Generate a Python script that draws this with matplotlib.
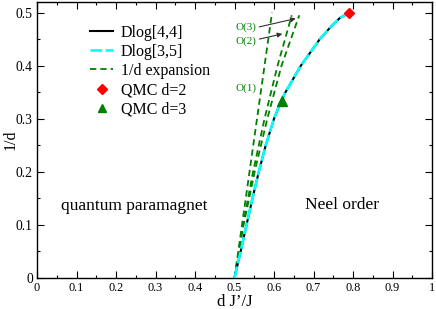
import matplotlib
matplotlib.use("Agg")
import matplotlib.pyplot as plt
from matplotlib.ticker import MultipleLocator, FixedLocator

plt.rcParams['font.family'] = ['Liberation Serif', 'DejaVu Serif']

# Dlog approximants of critical line: x = d J'/J, y = 1/d
dlog44_y = [0.0, 0.05, 0.1, 0.15, 0.2, 0.25, 0.3, 0.333, 0.35, 0.4, 0.45, 0.475, 0.49, 0.5]
dlog44_x = [0.5, 0.5155, 0.5305, 0.5455, 0.5615, 0.579, 0.600, 0.618, 0.629, 0.668, 0.716, 0.746, 0.767, 0.791]
dlog35_y = [0.0, 0.05, 0.1, 0.15, 0.2, 0.25, 0.3, 0.333, 0.35, 0.4, 0.45, 0.475, 0.49, 0.5]
dlog35_x = [0.5, 0.5155, 0.5305, 0.5455, 0.5615, 0.579, 0.600, 0.618, 0.629, 0.668, 0.716, 0.746, 0.767, 0.791]

# 1/d expansion at different orders
o1_y = [0.0, 0.5]
o1_x = [0.5, 0.595]
o2_y = [0.0, 0.1, 0.2, 0.3, 0.4, 0.495]
o2_x = [0.5, 0.5216, 0.547, 0.576, 0.609, 0.645]
o3_y = [0.0, 0.1, 0.2, 0.3, 0.4, 0.495]
o3_x = [0.5, 0.523, 0.551, 0.583, 0.619, 0.664]

# QMC points
qmc2_x, qmc2_y = [0.791], [0.5]
qmc3_x, qmc3_y = [0.62], [0.333]

xticks = [0, 0.1, 0.2, 0.3, 0.4, 0.5, 0.6, 0.7, 0.8, 0.9, 1.0]
xticklabels = ["0", "0.1", "0.2", "0.3", "0.4", "0.5", "0.6", "0.7", "0.8", "0.9", "1"]
yticks = [0, 0.1, 0.2, 0.3, 0.4, 0.5]
yticklabels = ["0", "0.1", "0.2", "0.3", "0.4", "0.5"]

fig = plt.figure(figsize=(4.36, 3.09), dpi=100)
ax = fig.add_axes([37/436, 31/309, 395/436, 276/309])

ax.plot(dlog44_x, dlog44_y, color='black', lw=1.5, label='Dlog[4,4]', zorder=3)
ax.plot(dlog35_x, dlog35_y, color='cyan', lw=1.9, dashes=(4.5, 1.2), label='Dlog[3,5]', zorder=4)
ax.plot(o1_x, o1_y, color='green', lw=1.3, dashes=(3.5, 2.2), label='1/d expansion', zorder=2)
ax.plot(o2_x, o2_y, color='green', lw=1.3, dashes=(3.5, 2.2), zorder=2)
ax.plot(o3_x, o3_y, color='green', lw=1.3, dashes=(3.5, 2.2), zorder=2)
ax.plot(qmc2_x, qmc2_y, linestyle='none', marker='D', color='red', ms=5.5, label='QMC d=2', zorder=5)
ax.plot(qmc3_x, qmc3_y, linestyle='none', marker='^', color='green', ms=7, label='QMC d=3', zorder=5)

ax.text(0.502, 0.357, 'O(1)', color='green', fontsize=8, va='center', ha='left')
ax.text(0.502, 0.447, 'O(2)', color='green', fontsize=8, va='center', ha='left')
ax.text(0.502, 0.473, 'O(3)', color='green', fontsize=8, va='center', ha='left')
ax.annotate('', xy=(0.662, 0.490), xytext=(0.556, 0.472),
            arrowprops=dict(arrowstyle='-|>', color='#333333', lw=0.8, mutation_scale=7))
ax.annotate('', xy=(0.628, 0.461), xytext=(0.556, 0.449),
            arrowprops=dict(arrowstyle='-|>', color='#333333', lw=0.8, mutation_scale=7))

ax.text(0.061, 0.135, 'quantum paramagnet', fontsize=12.5, va='center', ha='left')
ax.text(0.771, 0.137, 'Neel order', fontsize=12.5, va='center', ha='center')

ax.set_xlim(0, 1)
ax.set_ylim(0, 0.52)
ax.xaxis.set_major_locator(FixedLocator(xticks))
ax.set_xticklabels(xticklabels)
ax.yaxis.set_major_locator(FixedLocator(yticks))
ax.set_yticklabels(yticklabels)
ax.xaxis.set_minor_locator(MultipleLocator(0.05))
ax.yaxis.set_minor_locator(MultipleLocator(0.05))
ax.tick_params(which='both', direction='in', top=True, right=True, width=0.8)
ax.tick_params(axis='x', labelsize=8.8)
ax.tick_params(axis='y', labelsize=9.8)
ax.tick_params(which='major', length=5, pad=3)
ax.tick_params(which='minor', length=2.5)
for s in ax.spines.values():
    s.set_linewidth(1.0)

ax.set_xlabel('d J\u2019/J', fontsize=12, labelpad=0)
ax.set_ylabel('1/d', fontsize=11.5, va='center')
ax.yaxis.set_label_coords(-0.066, 0.5)

leg = ax.legend(loc='upper left', bbox_to_anchor=(0.134, 0.918), frameon=False,
                fontsize=11.5, handlelength=1.45, handletextpad=0.5, labelspacing=0.2,
                borderpad=0, borderaxespad=0, numpoints=1, markerscale=0.9)

fig.savefig('out.png', dpi=100)
